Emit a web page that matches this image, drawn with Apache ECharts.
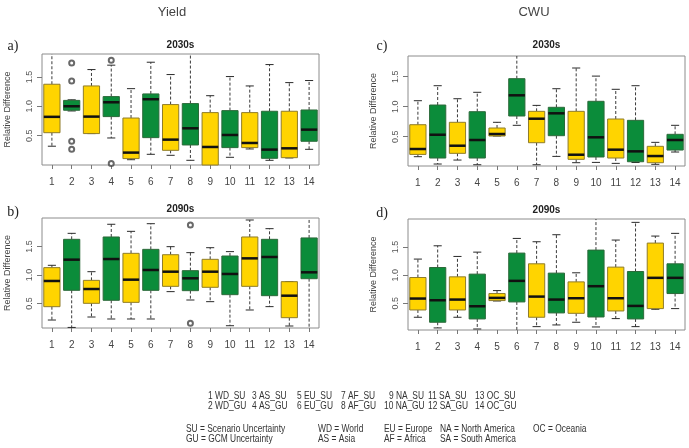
<!DOCTYPE html>
<html><head><meta charset="utf-8">
<script src="https://cdn.jsdelivr.net/npm/echarts@6/dist/echarts.min.js"></script>
<style>html,body{margin:0;padding:0;background:#fff}#c{width:689px;height:448px}</style>
</head><body><div id="c"></div>
<script>
// categories (x tick labels)
const categories = ['1','2','3','4','5','6','7','8','9','10','11','12','13','14'];
// y tick labels
const yTicks = [0.5, 1.0, 1.5];

// Each entry: [lower whisker, Q1, median, Q3, upper whisker]
const yield2030 = [
  [0.32, 0.55, 0.82, 1.375, 2.1],
  [0.92, 0.932, 1.0, 1.10, 1.11],
  [0.535, 0.535, 0.824, 1.346, 1.625],
  [0.46, 0.824, 1.068, 1.165, 1.70],
  [0.09, 0.109, 0.211, 0.80, 1.30],
  [0.182, 0.466, 1.12, 1.21, 1.75],
  [0.165, 0.25, 0.432, 1.029, 1.54],
  [0.08, 0.341, 0.625, 1.046, 2.1],
  [-0.1, -0.03, 0.307, 0.892, 1.18],
  [0.131, 0.296, 0.511, 0.926, 1.506],
  [0.273, 0.296, 0.375, 0.892, 1.346],
  [0.08, 0.114, 0.262, 0.915, 1.71],
  [0.12, 0.125, 0.284, 0.915, 1.403],
  [0.267, 0.404, 0.602, 0.937, 1.438]
];
const yield2030Outliers = [[1, 1.738], [1, 1.43], [1, 0.404], [1, 0.267], [3, 1.784], [3, 0.024]];

const yield2090 = [
  [0.21, 0.444, 0.895, 1.129, 1.17],
  [0.08, 0.731, 1.269, 1.626, 1.731],
  [0.263, 0.503, 0.754, 0.906, 1.058],
  [0.228, 0.556, 1.28, 1.667, 1.89],
  [0.228, 0.52, 0.918, 1.38, 1.766],
  [0.228, 0.731, 1.088, 1.45, 1.9],
  [0.708, 0.801, 1.058, 1.356, 1.497],
  [0.561, 0.725, 0.942, 1.076, 1.392],
  [0.532, 0.784, 1.058, 1.275, 1.479],
  [0.11, 0.655, 1.018, 1.333, 1.41],
  [0.386, 0.801, 1.292, 1.667, 1.965],
  [0.445, 0.637, 1.316, 1.626, 1.813],
  [0.105, 0.251, 0.637, 0.883, 0.883],
  [-0.1, 0.935, 1.047, 1.65, 2.1]
];
const yield2090Outliers = [[7, 1.877], [7, 0.153]];

const cwu2030 = [
  [0.167, 0.205, 0.295, 0.70, 1.10],
  [0.045, 0.145, 0.533, 1.028, 1.35],
  [0.111, 0.223, 0.35, 0.74, 1.133],
  [0.033, 0.145, 0.445, 0.917, 1.24],
  [0.512, 0.512, 0.545, 0.645, 0.74],
  [0.69, 0.845, 1.19, 1.467, 2.1],
  [0.033, 0.40, 0.80, 0.923, 1.022],
  [0.172, 0.517, 0.89, 0.99, 1.30],
  [0.067, 0.123, 0.20, 0.923, 1.645],
  [0.072, 0.162, 0.49, 1.09, 1.51],
  [0.056, 0.145, 0.284, 0.795, 1.29],
  [0.07, 0.083, 0.256, 0.773, 1.35],
  [0.04, 0.067, 0.178, 0.34, 0.406],
  [0.245, 0.278, 0.445, 0.54, 0.69]
];

const cwu2090 = [
  [0.25, 0.38, 0.583, 0.958, 1.286],
  [0.06, 0.161, 0.553, 1.136, 1.523],
  [0.25, 0.38, 0.565, 0.97, 1.333],
  [0.041, 0.22, 0.446, 1.018, 1.41],
  [0.54, 0.547, 0.595, 0.672, 0.725],
  [-0.1, 0.523, 0.898, 1.393, 1.654],
  [0.083, 0.25, 0.618, 1.202, 1.595],
  [0.113, 0.327, 0.565, 1.036, 1.72],
  [0.161, 0.32, 0.589, 0.88, 1.042],
  [0.077, 0.255, 0.803, 1.446, 2.1],
  [0.226, 0.362, 0.589, 1.143, 1.625],
  [0.083, 0.22, 0.452, 1.065, 1.94],
  [0.392, 0.404, 0.952, 1.571, 1.696],
  [0.404, 0.672, 0.952, 1.202, 1.744]
];

const legendRow1 = [['1 WD_SU',208],['3 AS_SU',252],['5 EU_SU',297],['7 AF_SU',341],['9 NA_SU',389],['11 SA_SU',428],['13 OC_SU',475]];
const legendRow2 = [['2 WD_GU',208],['4 AS_GU',252],['6 EU_GU',297],['8 AF_GU',341],['10 NA_GU',384],['12 SA_GU',428],['14 OC_GU',475]];
const abbrRow1 = [['SU = Scenario Uncertainty',186],['WD = World',318],['EU = Europe',384],['NA = North America',440],['OC = Oceania',533]];
const abbrRow2 = [['GU = GCM Uncertainty',186],['AS = Asia',318],['AF = Africa',384],['SA = South America',440]];

const YELLOW = '#FFD400', GREEN = '#0B8C3A';
const YELLOW_B = '#8f7c2a', GREEN_B = '#2c6a3a';

const panels = [
  {data: yield2030, out: yield2030Outliers, left: 42, top: 54, height: 111, min: 0, max: 1.89},
  {data: yield2090, out: yield2090Outliers, left: 42, top: 218, height: 110, min: 0.07, max: 2.0},
  {data: cwu2030, out: [], left: 408, top: 56, height: 110, min: 0.012, max: 1.845},
  {data: cwu2090, out: [], left: 408, top: 219, height: 111, min: 0.023, max: 2.0}
];

function renderBox(params, api) {
  const idx = api.value(0);
  const lo = api.value(1), q1 = api.value(2), md = api.value(3), q3 = api.value(4), hi = api.value(5);
  const cs = params.coordSys;
  const bw = api.size([1, 0])[0] * 0.82;
  const cx = api.coord([idx, md])[0];
  const Y = v => api.coord([idx, v])[1];
  const top = cs.y, bot = cs.y + cs.height;
  const cl = v => Math.max(top, Math.min(bot, v));
  const inR = v => v >= top - 0.5 && v <= bot + 0.5;
  const yLo = Y(lo), yQ1 = Y(q1), yMd = Y(md), yQ3 = Y(q3), yHi = Y(hi);
  const isY = idx % 2 === 0;
  const ch = [];
  const dash = {stroke: '#3a3a3a', lineWidth: 1, lineDash: [3, 2]};
  ch.push({type: 'line', shape: {x1: cx, y1: cl(yQ3), x2: cx, y2: cl(yHi)}, style: dash});
  ch.push({type: 'line', shape: {x1: cx, y1: cl(yQ1), x2: cx, y2: cl(yLo)}, style: dash});
  const cap = {stroke: '#2a2a2a', lineWidth: 1};
  if (inR(yHi)) ch.push({type: 'line', shape: {x1: cx - bw / 4, y1: yHi, x2: cx + bw / 4, y2: yHi}, style: cap});
  if (inR(yLo)) ch.push({type: 'line', shape: {x1: cx - bw / 4, y1: yLo, x2: cx + bw / 4, y2: yLo}, style: cap});
  ch.push({type: 'rect', shape: {x: cx - bw / 2, y: cl(yQ3), width: bw, height: cl(yQ1) - cl(yQ3)},
    style: {fill: isY ? YELLOW : GREEN, stroke: isY ? YELLOW_B : GREEN_B, lineWidth: 1}});
  if (inR(yMd)) ch.push({type: 'line', shape: {x1: cx - bw / 2, y1: yMd, x2: cx + bw / 2, y2: yMd}, style: {stroke: '#111', lineWidth: 2.5}});
  return {type: 'group', children: ch};
}

const grid = [], xAxis = [], yAxis = [], series = [];
panels.forEach((p, i) => {
  grid.push({left: p.left, top: p.top, width: 277, height: p.height, show: true,
    borderColor: '#8c8c8c', borderWidth: 1, backgroundColor: 'transparent', containLabel: false});
  xAxis.push({type: 'category', gridIndex: i, data: categories, boundaryGap: true,
    axisLine: {show: false},
    axisTick: {show: true, alignWithLabel: true, length: 4, lineStyle: {color: '#777'}},
    axisLabel: {color: '#444', fontSize: 10, margin: 12, interval: 0, fontFamily: 'Liberation Sans'},
    splitLine: {show: false}});
  yAxis.push({type: 'value', gridIndex: i, min: p.min, max: p.max,
    name: 'Relative Difference', nameLocation: 'middle', nameGap: 30,
    nameTextStyle: {fontSize: 9, color: '#444', fontFamily: 'Liberation Sans'},
    axisLine: {show: false},
    axisTick: {show: true, length: 5, customValues: yTicks, lineStyle: {color: '#777'}},
    axisLabel: {customValues: yTicks, rotate: 90, fontSize: 9, color: '#555', margin: 8,
      fontFamily: 'Liberation Sans', formatter: v => v.toFixed(1)},
    splitLine: {show: false}});
  series.push({type: 'custom', xAxisIndex: i, yAxisIndex: i, renderItem: renderBox,
    encode: {x: 0, y: [1, 2, 3, 4, 5]},
    data: p.data.map((d, k) => [k, d[0], d[1], d[2], d[3], d[4]])});
  if (p.out.length) series.push({type: 'scatter', xAxisIndex: i, yAxisIndex: i,
    symbol: 'emptyCircle', symbolSize: 5, itemStyle: {color: '#444', borderWidth: 0.8},
    data: p.out});
});

const graphic = [];
const txt = (text, x, y, o, sx) => graphic.push({type: 'text', x, y, scaleX: sx || 1, silent: true,
  style: Object.assign({text, fill: '#333', fontSize: 10, fontFamily: 'Liberation Sans', align: 'center', verticalAlign: 'middle'}, o || {})});
txt('Yield', 172, 12, {fontSize: 13, fill: '#444'});
txt('CWU', 534, 12, {fontSize: 13, fill: '#444'});
txt('a)', 13, 46, {fontSize: 14, fontFamily: 'Liberation Serif', fill: '#222'});
txt('b)', 13, 212, {fontSize: 14, fontFamily: 'Liberation Serif', fill: '#222'});
txt('c)', 382, 46, {fontSize: 14, fontFamily: 'Liberation Serif', fill: '#222'});
txt('d)', 382, 213, {fontSize: 14, fontFamily: 'Liberation Serif', fill: '#222'});
txt('2030s', 180.5, 45, {fontSize: 10, fontWeight: 'bold', fill: '#222'});
txt('2090s', 180.5, 209, {fontSize: 10, fontWeight: 'bold', fill: '#222'});
txt('2030s', 546.5, 45, {fontSize: 10, fontWeight: 'bold', fill: '#222'});
txt('2090s', 546.5, 210, {fontSize: 10, fontWeight: 'bold', fill: '#222'});
const nf = {align: 'left', fontFamily: 'Liberation Sans', fontSize: 10, fill: '#333'};
legendRow1.forEach(([t, x]) => txt(t, x, 396, nf, 0.84));
legendRow2.forEach(([t, x]) => txt(t, x, 406, nf, 0.84));
abbrRow1.forEach(([t, x]) => txt(t, x, 429, nf, 0.84));
abbrRow2.forEach(([t, x]) => txt(t, x, 439, nf, 0.84));

const chart = echarts.init(document.getElementById('c'), null, {renderer: 'canvas'});
chart.setOption({animation: false, backgroundColor: '#fff', grid, xAxis, yAxis, series, graphic});
</script></body></html>
